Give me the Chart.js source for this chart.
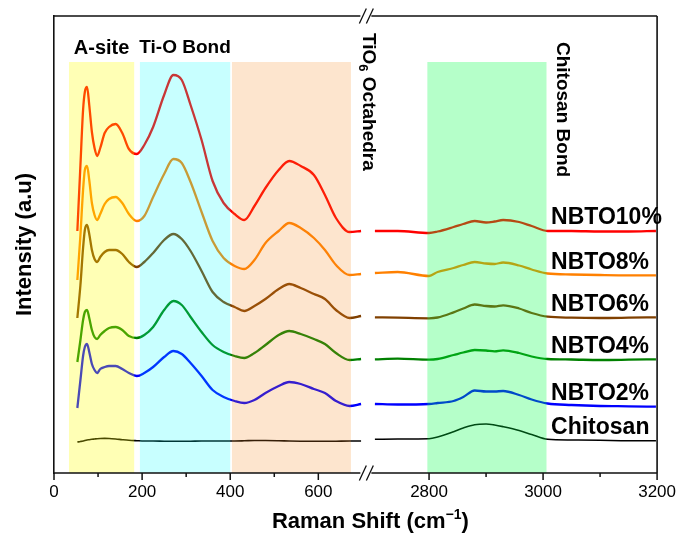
<!DOCTYPE html>
<html>
<head>
<meta charset="utf-8">
<script src="https://cdn.jsdelivr.net/npm/chart.js@4/dist/chart.umd.min.js"></script>
<style>
  html, body { margin: 0; padding: 0; background: #fff; }
</style>
</head>
<body>
<canvas id="raman" width="685" height="533"></canvas>
<script>
const FONT = "'Liberation Sans', Arial, sans-serif";

// Raman shift grid (cm-1), low range and CH stretch range
const shiftLeft = [53, 60, 66, 70, 75, 80, 86, 92, 98, 105, 115, 125, 140, 155, 170, 188, 205, 225, 250, 271,
  290, 310, 335, 360, 385, 410, 432, 455, 480, 510, 534, 560, 590, 615, 640, 671, 697];
const shiftRight = [2705, 2745, 2800, 2815, 2843, 2860, 2880, 2900, 2915, 2930, 2958, 2980, 3008, 3050, 3100, 3150, 3198];

// intensities (a.u., already offset for stacking)
const nbto10Left = [242, 308, 363, 381, 386, 368, 341, 325, 317, 325, 340, 346, 349, 340, 324, 319, 328, 346, 378, 398,
  393, 368, 333, 292, 270, 259, 253, 267, 285, 303, 312, 307, 298, 278, 255, 241, 242];
const nbto10Right = [242, 242, 240, 241.5, 246, 249, 252, 250.5, 251.5, 253, 251, 247, 242, 242, 241.5, 241.5, 242];

const nbto8Left = [193, 238, 283, 303, 307, 293, 270, 258, 253, 259, 269, 274, 276, 270, 259, 252, 257, 276, 299, 314,
  310, 291, 261, 232, 215, 207, 204, 213, 230, 242, 250, 245, 235, 223, 208, 198, 199];
const nbto8Right = [200, 201, 197, 201, 205, 208, 211, 209.5, 209, 210.5, 207.5, 203.5, 199.5, 198.5, 198, 197.7, 197.7];

const nbto6Left = [155, 188, 225, 243, 248, 239, 223, 214, 211, 216, 221, 223, 223, 219, 211, 206, 211, 220, 233, 239,
  234, 222, 202, 181, 171, 166, 162, 167, 174, 184, 189, 185, 179, 174, 163, 155, 157];
const nbto6Right = [155.7, 155.3, 154.7, 155.5, 160.7, 164.5, 168.5, 167, 166.5, 167.7, 164.5, 160, 156.3, 155.3, 155, 155.3, 155.7];

const nbto4Left = [111, 133, 153, 161, 163, 155, 143, 136, 134, 138, 142, 145, 146, 143, 137, 135, 138, 146, 163, 172,
  168, 156, 141, 128, 121, 117, 115, 120, 128, 138, 142, 139, 134, 129, 120, 113, 114];
const nbto4Right = [113.7, 114.3, 113.3, 114, 118, 120.5, 123, 122.5, 121.7, 122.7, 120, 116.5, 114, 113.5, 113, 113.3, 113.7];

const nbto2Left = [65, 93, 117, 126, 129, 121, 109, 103, 100, 104, 106, 107, 107, 104, 100, 97, 100, 106, 116, 122,
  119, 110, 97, 83, 76, 72, 70, 73, 80, 87, 91, 89, 84, 80, 72, 67, 69];
const nbto2Right = [69, 68.5, 69, 70, 72, 76, 82.5, 81.5, 81.5, 82, 78, 73.5, 69.5, 68, 67, 66.7, 66.3];

const chitosanLeft = [31, 31.5, 32, 32.5, 33, 33.3, 33.7, 34, 34.3, 34.5, 34.6, 34.5, 34, 33.3, 32.7, 32.3, 32, 32, 31.8, 31.7,
  31.7, 31.8, 32, 32, 32, 32, 32.2, 32.5, 32.5, 32.3, 32, 31.8, 31.7, 31.7, 31.8, 32, 32];
const chitosanRight = [33.7, 34, 34.3, 36, 41.3, 45, 48.3, 49, 48, 46.3, 42.5, 38.5, 33.7, 33, 32.7, 32.3, 32.3];

const seriesNames = ["NBTO10%", "NBTO8%", "NBTO6%", "NBTO4%", "NBTO2%", "Chitosan"];

// shaded assignment regions (cm-1)
const bandNames = ["A-site", "Ti-O Bond", "TiO6 Octahedra", "Chitosan Bond"];
const bandRanges = [[34, 182], [195, 400], [404, 674], [2797, 3006]];
const BAND_TOP = 411;

const majorTicks = [0, 200, 400, 600, 2800, 3000, 3200];
const minorTicks = [100, 300, 500, 2900, 3100];

// broken x axis: 0..LEFT_MAX, then RIGHT_MIN..3200 drawn a bit wider
const LEFT_MAX = 709;
const RIGHT_MIN = 2690;
const RIGHT_SCALE = 1.294;
const X_MAX = 3200;
const Y_MAX = 457;

function toAxis(raw) {
  return raw <= LEFT_MAX ? raw : LEFT_MAX + (raw - RIGHT_MIN) * RIGHT_SCALE;
}
function fromAxis(v) {
  return v <= LEFT_MAX ? v : RIGHT_MIN + (v - LEFT_MAX) / RIGHT_SCALE;
}

function buildPoints(left, right) {
  const pts = shiftLeft.map((s, i) => ({ x: toAxis(s), y: left[i] }));
  pts.push({ x: LEFT_MAX, y: null }); // gap at the break
  shiftRight.forEach((s, i) => pts.push({ x: toAxis(s), y: right[i] }));
  return pts;
}

const lineColors = ["#ff0000", "#ff8000", "#804000", "#008000", "#0000ff", "#000000"];
const bandColors = ["rgba(255,255,0,0.29)", "rgba(0,255,255,0.215)", "rgba(248,135,30,0.22)", "rgba(0,255,70,0.29)"];

const allLeft = [nbto10Left, nbto8Left, nbto6Left, nbto4Left, nbto2Left, chitosanLeft];
const allRight = [nbto10Right, nbto8Right, nbto6Right, nbto4Right, nbto2Right, chitosanRight];

const datasets = seriesNames.map((name, i) => ({
  label: name,
  data: buildPoints(allLeft[i], allRight[i]),
  borderColor: lineColors[i],
  borderWidth: i === 5 ? 1.6 : 2.3,
  pointRadius: 0,
  cubicInterpolationMode: "monotone",
  spanGaps: false,
  fill: false,
}));

function drawPieces(ctx, pieces, x, y, align) {
  // pieces: [text, size, dy]
  let total = 0;
  pieces.forEach((p) => {
    ctx.font = "bold " + p[1] + "px " + FONT;
    total += ctx.measureText(p[0]).width;
  });
  let cx = align === "center" ? x - total / 2 : x;
  ctx.textAlign = "left";
  ctx.textBaseline = "middle";
  pieces.forEach((p) => {
    ctx.font = "bold " + p[1] + "px " + FONT;
    ctx.fillText(p[0], cx, y + p[2]);
    cx += ctx.measureText(p[0]).width;
  });
}

const decorations = {
  id: "decorations",
  afterDatasetsDraw(chart) {
    const { ctx, chartArea: a, scales: { x, y } } = chart;
    ctx.save();
    const top = y.getPixelForValue(BAND_TOP);
    bandRanges.forEach((b, i) => {
      const x0 = x.getPixelForValue(toAxis(b[0]));
      const x1 = x.getPixelForValue(toAxis(b[1]));
      ctx.fillStyle = bandColors[i];
      ctx.fillRect(x0, top, x1 - x0, a.bottom - top);
    });
    ctx.restore();
  },
  afterDraw(chart) {
    const { ctx, chartArea: a, scales: { x, y } } = chart;
    const bx = x.getPixelForValue(LEFT_MAX);
    ctx.save();
    ctx.strokeStyle = "#111";
    ctx.lineWidth = 1.6;

    // frame with gaps at the break
    ctx.beginPath();
    [a.top, a.bottom].forEach((yy) => {
      ctx.moveTo(a.left, yy);
      ctx.lineTo(bx - 6, yy);
      ctx.moveTo(bx + 5, yy);
      ctx.lineTo(a.right, yy);
    });
    ctx.moveTo(a.right, a.top);
    ctx.lineTo(a.right, a.bottom);
    ctx.stroke();

    // break marks //
    ctx.lineWidth = 1.3;
    ctx.beginPath();
    [a.top, a.bottom].forEach((yy) => {
      [-3.5, 3.5].forEach((d) => {
        ctx.moveTo(bx + d - 3.5, yy + 7.5);
        ctx.lineTo(bx + d + 3.5, yy - 7.5);
      });
    });
    ctx.stroke();

    // tick marks
    ctx.lineWidth = 1.5;
    ctx.beginPath();
    majorTicks.forEach((t) => {
      const px = x.getPixelForValue(toAxis(t));
      ctx.moveTo(px, a.bottom);
      ctx.lineTo(px, a.bottom + 7);
    });
    minorTicks.forEach((t) => {
      const px = x.getPixelForValue(toAxis(t));
      ctx.moveTo(px, a.bottom);
      ctx.lineTo(px, a.bottom + 4);
    });
    ctx.stroke();

    ctx.fillStyle = "#000";
    const bandTop = y.getPixelForValue(BAND_TOP);

    // region captions
    const mid = (b) => (x.getPixelForValue(toAxis(b[0])) + x.getPixelForValue(toAxis(b[1]))) / 2;
    drawPieces(ctx, [[bandNames[0], 20, 0]], mid(bandRanges[0]), bandTop - 14, "center");
    drawPieces(ctx, [[bandNames[1], 19, 0]], mid(bandRanges[1]), bandTop - 14, "center");

    // rotated captions
    ctx.save();
    ctx.translate(bx + 2, a.top + 17);
    ctx.rotate(Math.PI / 2);
    drawPieces(ctx, [["TiO", 19, 0], ["6", 13, 6], [" Octahedra", 19, 0]], 0, 0, "left");
    ctx.restore();

    ctx.save();
    ctx.translate(x.getPixelForValue(toAxis(bandRanges[3][1])) + 16, a.top + 26);
    ctx.rotate(Math.PI / 2);
    drawPieces(ctx, [[bandNames[3], 19, 0]], 0, 0, "left");
    ctx.restore();

    // series names at the right
    const lx = x.getPixelForValue(toAxis(3014));
    seriesNames.forEach((name, i) => {
      const last = allRight[i][allRight[i].length - 1];
      drawPieces(ctx, [[name, 23, 0]], lx, y.getPixelForValue(last) - 13, "left");
    });

    // x axis title with superscript
    drawPieces(ctx, [["Raman Shift (cm", 22, 0], ["\u22121", 14, -7], [")", 22, 0]], bx + 4, 522, "center");
    ctx.restore();
  },
};

new Chart(document.getElementById("raman"), {
  type: "line",
  data: { datasets },
  options: {
    responsive: false,
    animation: false,
    events: [],
    layout: { padding: { top: 16, right: 22, left: 0, bottom: 0 } },
    plugins: { legend: { display: false }, tooltip: { enabled: false } },
    scales: {
      x: {
        type: "linear",
        min: 0,
        max: toAxis(X_MAX),
        afterFit: (s) => { s.height = 60; },
        afterBuildTicks: (s) => { s.ticks = majorTicks.map((t) => ({ value: toAxis(t) })); },
        grid: { display: false, drawTicks: false },
        border: { display: false },
        ticks: {
          autoSkip: false,
          maxRotation: 0,
          padding: 9,
          color: "#000",
          font: { family: FONT, size: 17 },
          callback: (v) => String(Math.round(fromAxis(v))),
        },
      },
      y: {
        min: 0,
        max: Y_MAX,
        afterFit: (s) => { s.width = 54; },
        ticks: { display: false },
        grid: { display: false, drawTicks: false },
        border: { display: true, color: "#111", width: 1.6 },
        title: {
          display: true,
          text: "Intensity (a.u)",
          color: "#000",
          font: { family: FONT, size: 22, weight: "bold" },
          padding: { top: 12, bottom: 0 },
        },
      },
    },
  },
  plugins: [decorations],
});
</script>
</body>
</html>
